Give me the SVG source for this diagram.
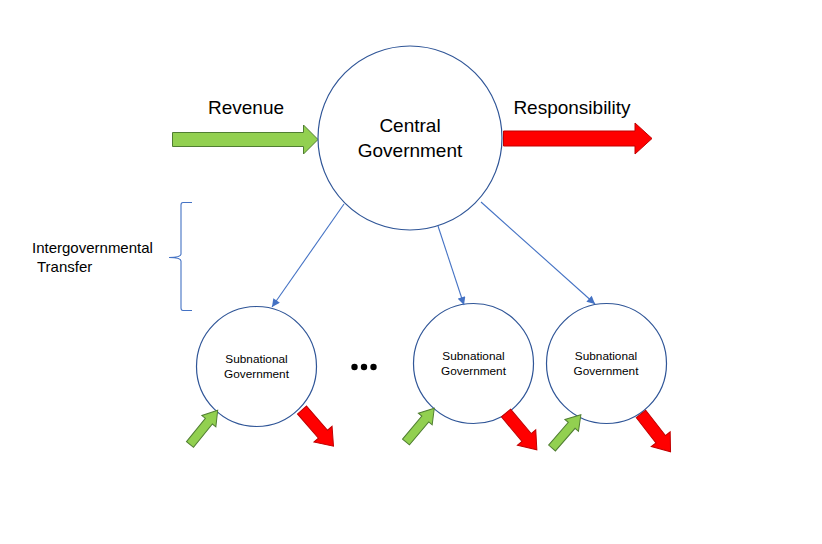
<svg xmlns="http://www.w3.org/2000/svg" width="822" height="544" viewBox="0 0 822 544">
<style>
.circ{fill:#FFFFFF;stroke:#2F5597;stroke-width:1.2}
.lbl{font-family:"Liberation Sans",Arial,sans-serif;fill:#000000}
.big{font-size:19px}
.small{font-size:11.8px}
.mid{font-size:15px}
.conn{fill:none;stroke:#4472C4;stroke-width:1.1}
.green{fill:#92D050;stroke:#507E32;stroke-width:1}
.red{fill:#FF0000;stroke:#C00000;stroke-width:1}
</style>
<defs>
<marker id="ah" viewBox="0 0 10 10" refX="10" refY="5" markerWidth="9" markerHeight="8" markerUnits="userSpaceOnUse" orient="auto">
<path d="M0,0 L10,5 L0,10 Z" fill="#4472C4"/>
</marker>
<path id="gArrow" d="M0,-4.5 H30 V-9 L44,0 L30,9 V4.5 H0 Z"/>
<path id="rArrow" d="M0,-6 H32 V-12 L48,0 L32,12 V6 H0 Z"/>
</defs>
<rect width="822" height="544" fill="#FFFFFF"/>

<g id="revenue">
<path class="green" d="M172.5,132.5 H303.5 V125 L318,139.5 L303.5,154 V146.5 H172.5 Z"/>
<text class="lbl big" x="246" y="114" text-anchor="middle">Revenue</text>
</g>

<g id="responsibility">
<path class="red" d="M503.5,131 H635 V123 L652,138.5 L635,154 V146 H503.5 Z"/>
<text class="lbl big" x="572" y="114" text-anchor="middle">Responsibility</text>
</g>

<g id="central">
<circle class="circ" cx="410" cy="138" r="92"/>
<text class="lbl big" x="410" y="132" text-anchor="middle">Central</text>
<text class="lbl big" x="410" y="157" text-anchor="middle">Government</text>
</g>

<g id="transfer">
<path d="M192,202.5 H183 Q181,202.5 181,205 V254 Q181,257.5 169,257.5 Q181,257.5 181,261 V308 Q181,310.5 183,310.5 H192" fill="none" stroke="#4472C4" stroke-width="1.1"/>
<text class="lbl mid" x="32" y="253">Intergovernmental</text>
<text class="lbl mid" x="37" y="272">Transfer</text>
</g>

<g id="sub1">
<circle class="circ" cx="256.5" cy="366.5" r="60"/>
<text class="lbl small" x="256.5" y="363" text-anchor="middle">Subnational</text>
<text class="lbl small" x="256.5" y="378" text-anchor="middle">Government</text>
<use href="#gArrow" class="green" transform="translate(190,444.5) rotate(-51)"/>
<use href="#rArrow" class="red" transform="translate(302,410) rotate(49)"/>
</g>

<g id="ellipsis" fill="#000000">
<circle cx="354.5" cy="367" r="3.2"/>
<circle cx="364" cy="367" r="3.2"/>
<circle cx="373.5" cy="367" r="3.2"/>
</g>

<g id="sub2">
<circle class="circ" cx="473.5" cy="363.5" r="60"/>
<text class="lbl small" x="473.5" y="360" text-anchor="middle">Subnational</text>
<text class="lbl small" x="473.5" y="375" text-anchor="middle">Government</text>
<use href="#gArrow" class="green" transform="translate(406,442) rotate(-50)"/>
<use href="#rArrow" class="red" transform="translate(506,413) rotate(50)"/>
</g>

<g id="sub3">
<circle class="circ" cx="606.5" cy="363.5" r="60"/>
<text class="lbl small" x="606" y="359.5" text-anchor="middle">Subnational</text>
<text class="lbl small" x="606" y="374.5" text-anchor="middle">Government</text>
<use href="#gArrow" class="green" transform="translate(552,448) rotate(-49)"/>
<use href="#rArrow" class="red" transform="translate(641,414) rotate(52)"/>
</g>

<g id="connectors">
<path class="conn" d="M344,204 L272,307" marker-end="url(#ah)"/>
<path class="conn" d="M438,226 L464,305" marker-end="url(#ah)"/>
<path class="conn" d="M481,202 L595,304" marker-end="url(#ah)"/>
</g>
</svg>
